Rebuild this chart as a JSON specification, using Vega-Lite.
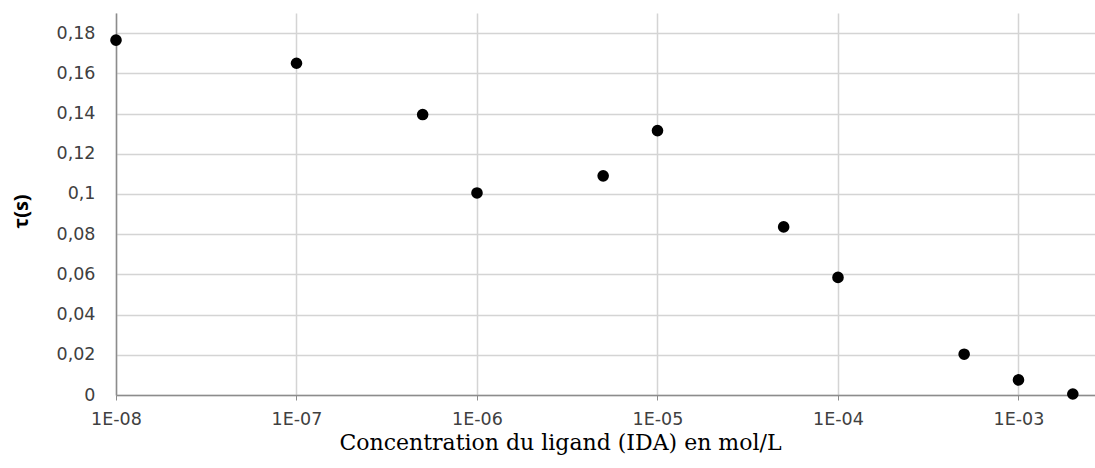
{
  "$schema": "https://vega.github.io/schema/vega-lite/v6.json",
  "width": 979,
  "height": 382,
  "autosize": {"type": "none"},
  "padding": {"left": 116, "top": 13, "right": 0, "bottom": 73},
  "background": "white",
  "config": {
    "view": {"stroke": null},
    "axis": {
      "labelFont": "DejaVu Sans",
      "labelFontSize": 17.5,
      "labelColor": "#404040",
      "gridColor": "#d4d4d4",
      "gridWidth": 1.5,
      "domainColor": "#8c8c8c",
      "domainWidth": 1.5,
      "tickColor": "#8c8c8c"
    }
  },
  "data": {
    "values": [
      {"c": 1e-8, "tau": 0.1765},
      {"c": 1e-7, "tau": 0.1650},
      {"c": 5e-7, "tau": 0.1395},
      {"c": 1e-6, "tau": 0.1005},
      {"c": 5e-6, "tau": 0.1090},
      {"c": 1e-5, "tau": 0.1315},
      {"c": 5e-5, "tau": 0.0836},
      {"c": 1e-4, "tau": 0.0585},
      {"c": 5e-4, "tau": 0.0203},
      {"c": 1e-3, "tau": 0.0075},
      {"c": 2e-3, "tau": 0.0005}
    ]
  },
  "mark": {"type": "point", "filled": true, "color": "#000000", "opacity": 1, "size": 135, "clip": false},
  "encoding": {
    "x": {
      "field": "c",
      "type": "quantitative",
      "scale": {"type": "log", "domain": [1e-8, 0.002654], "nice": false},
      "axis": {
        "values": [1e-8, 1e-7, 1e-6, 1e-5, 1e-4, 1e-3],
        "labelExpr": "'1E-0' + abs(round(log(datum.value)/LN10))",
        "tickSize": 5,
        "labelPadding": 10,
        "labelFlush": false,
        "title": "Concentration du ligand (IDA) en mol/L",
        "titleFont": "DejaVu Serif",
        "titleFontSize": 22,
        "titleFontWeight": "normal",
        "titleColor": "#000000",
        "titleX": 444,
        "titleY": 54,
        "titleAlign": "center",
        "titleBaseline": "alphabetic"
      }
    },
    "y": {
      "field": "tau",
      "type": "quantitative",
      "scale": {"domain": [0, 0.19], "nice": false},
      "axis": {
        "values": [0, 0.02, 0.04, 0.06, 0.08, 0.1, 0.12, 0.14, 0.16, 0.18],
        "labelExpr": "replace(format(datum.value, '.2~f'), '.', ',')",
        "ticks": false,
        "tickSize": 0,
        "labelPadding": 21,
        "title": "τ(s)",
        "titleFont": "Open Sans",
        "titleFontSize": 20,
        "titleFontWeight": "bold",
        "titleColor": "#000000",
        "titleX": -95,
        "titleY": 198,
        "titleAngle": -90,
        "titleAlign": "center",
        "titleBaseline": "middle"
      }
    }
  }
}
